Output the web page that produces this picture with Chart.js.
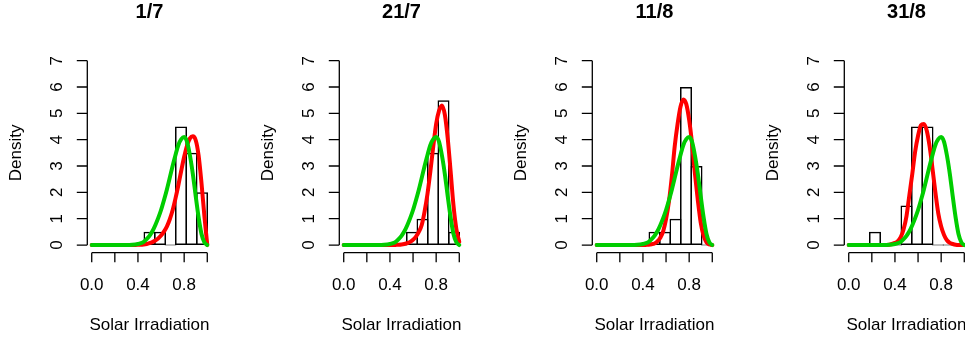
<!DOCTYPE html>
<html>
<head>
<meta charset="utf-8">
<title>Solar Irradiation</title>
<script src="https://cdn.jsdelivr.net/npm/chart.js@4.4.1/dist/chart.umd.min.js"></script>
<style>
  html, body { margin: 0; padding: 0; background: #fff; }
  #wrap { position: relative; width: 965px; height: 340px; overflow: hidden; }
  #wrap canvas { position: absolute; top: 0; }
</style>
</head>
<body>
<div id="wrap"></div>
<script>
// histogram breaks (11 equal bins on [0, 1])
const breaks = [0, 0.0909, 0.1818, 0.2727, 0.3636, 0.4545, 0.5455, 0.6364, 0.7273, 0.8182, 0.9091, 1];

// density of each bin, one array per day
const hist_1_7  = [0, 0, 0,   0, 0, 0.5, 0.5, 0,   4.5, 3.5, 2];
const hist_21_7 = [0, 0, 0,   0, 0, 0,   0.5, 1,   3.5, 5.5, 0.5];
const hist_11_8 = [0, 0, 0,   0, 0, 0.5, 0.5, 1,   6,   3,   0];
const hist_31_8 = [0, 0, 0.5, 0, 0, 1.5, 4.5, 4.5, 0,   0,   0];

// x positions where the fitted densities are listed
const curveX = [0, 0.1, 0.2, 0.3, 0.35, 0.4, 0.425, 0.45, 0.475, 0.5, 0.525, 0.55, 0.575, 0.6, 0.625,
                0.65, 0.675, 0.7, 0.725, 0.75, 0.775, 0.8, 0.825, 0.85, 0.875, 0.9, 0.925, 0.95, 0.975, 1];

// green density, same in every panel
const greenDens = [0, 0, 0, 0, 0.01, 0.04, 0.07, 0.12, 0.22, 0.35, 0.52, 0.75, 1.02, 1.33, 1.7,
                   2.1, 2.55, 3.0, 3.42, 3.8, 4.02, 4.1, 3.92, 3.4, 2.7, 1.85, 1.05, 0.42, 0.1, 0];

// red density fitted for each day
const red_1_7  = [0, 0, 0, 0, 0, 0.01, 0.01, 0.02, 0.04, 0.07, 0.11, 0.17, 0.25, 0.36, 0.51,
                  0.7, 0.97, 1.32, 1.77, 2.28, 2.83, 3.35, 3.78, 4.05, 4.13, 3.98, 3.4, 2.35, 1.1, 0];
const red_21_7 = [0, 0, 0, 0, 0, 0, 0, 0.005, 0.01, 0.02, 0.04, 0.07, 0.12, 0.2, 0.32,
                  0.5, 0.76, 1.28, 1.95, 2.8, 3.75, 4.6, 5.1, 5.3, 4.95, 4.05, 2.8, 1.5, 0.6, 0.12];
const red_11_8 = [0, 0, 0, 0, 0, 0, 0.005, 0.01, 0.03, 0.06, 0.14, 0.28, 0.52, 0.98, 1.65,
                  2.6, 3.75, 4.6, 5.25, 5.53, 5.35, 4.75, 3.85, 2.7, 1.7, 0.85, 0.35, 0.1, 0.02, 0];
const red_31_8 = [0, 0, 0, 0, 0.01, 0.08, 0.15, 0.3, 0.6, 1.1, 1.9, 2.7, 3.55, 4.15, 4.55,
                  4.6, 4.35, 3.75, 2.9, 2.0, 1.2, 0.7, 0.38, 0.18, 0.08, 0.04, 0.01, 0, 0, 0];

const days = ['1/7', '21/7', '11/8', '31/8'];
const hists = [hist_1_7, hist_21_7, hist_11_8, hist_31_8];
const reds = [red_1_7, red_21_7, red_11_8, red_31_8];

// axis ticks
const xTicks = [0, 0.2, 0.4, 0.6, 0.8, 1];
const xTickLabels = ['0.0', '', '0.4', '', '0.8', ''];
const yTicks = [0, 1, 2, 3, 4, 5, 6, 7];

const xTitle = 'Solar Irradiation';
const yTitle = 'Density';

const FONT = '"Liberation Sans", Arial, Helvetica, sans-serif';

// base-graphics style axes: no box, ticks pointing outwards, rotated y labels
const rAxes = {
  id: 'rAxes',
  afterDraw(chart, args, opts) {
    const { ctx, chartArea: a, scales: { x, y } } = chart;
    ctx.save();
    ctx.strokeStyle = '#000';
    ctx.fillStyle = '#000';
    ctx.lineWidth = 1.3;

    const yb = a.bottom + 0.3;
    const xl = a.left + 0.2;
    ctx.beginPath();
    ctx.moveTo(x.getPixelForValue(xTicks[0]), yb);
    ctx.lineTo(x.getPixelForValue(xTicks[xTicks.length - 1]), yb);
    xTicks.forEach(v => {
      const px = x.getPixelForValue(v);
      ctx.moveTo(px, yb);
      ctx.lineTo(px, yb + 9.5);
    });
    ctx.moveTo(xl, y.getPixelForValue(yTicks[0]));
    ctx.lineTo(xl, y.getPixelForValue(yTicks[yTicks.length - 1]));
    yTicks.forEach(v => {
      const py = y.getPixelForValue(v);
      ctx.moveTo(xl, py);
      ctx.lineTo(xl - 10.5, py);
    });
    ctx.stroke();

    ctx.font = '17px ' + FONT;
    ctx.textAlign = 'center';
    ctx.textBaseline = 'alphabetic';
    xTicks.forEach((v, i) => {
      if (xTickLabels[i]) ctx.fillText(xTickLabels[i], x.getPixelForValue(v), a.bottom + 37.6);
    });
    yTicks.forEach(v => {
      ctx.save();
      ctx.translate(a.left - 25.4, y.getPixelForValue(v));
      ctx.rotate(-Math.PI / 2);
      ctx.fillText(String(v), 0, 0);
      ctx.restore();
    });

    const cx = (a.left + a.right) / 2;
    ctx.fillText(xTitle, cx, 330);
    ctx.save();
    ctx.translate(20.7, (a.top + a.bottom) / 2);
    ctx.rotate(-Math.PI / 2);
    ctx.fillText(yTitle, 0, 0);
    ctx.restore();

    ctx.font = 'bold 20px ' + FONT;
    ctx.fillText(opts.title, cx, 18.3);
    ctx.restore();
  }
};

const wrap = document.getElementById('wrap');

days.forEach((day, k) => {
  const canvas = document.createElement('canvas');
  canvas.width = 253;
  canvas.height = 340;
  canvas.style.left = Math.round(k * 252.4) + 'px';
  wrap.appendChild(canvas);

  const bars = hists[k].map((d, i) => ({ x: (breaks[i] + breaks[i + 1]) / 2, y: d }));
  const red = curveX.map((v, i) => ({ x: v, y: reds[k][i] }));
  const green = curveX.map((v, i) => ({ x: v, y: greenDens[i] }));

  new Chart(canvas, {
    type: 'bar',
    data: {
      datasets: [
        {
          type: 'line', data: green, order: 0,
          borderColor: '#00CD00', borderWidth: 4, pointRadius: 0,
          cubicInterpolationMode: 'monotone', borderCapStyle: 'round', borderJoinStyle: 'round'
        },
        {
          type: 'line', data: red, order: 1,
          borderColor: '#FF0000', borderWidth: 4, pointRadius: 0,
          cubicInterpolationMode: 'monotone', borderCapStyle: 'round', borderJoinStyle: 'round'
        },
        {
          // bars are widened by one border width so neighbours share a single edge line
          type: 'bar', data: bars, order: 2,
          backgroundColor: 'rgba(255,255,255,0)', borderColor: '#000', borderWidth: 1.5,
          borderSkipped: false, inflateAmount: 0, minBarLength: 1,
          categoryPercentage: 1, barPercentage: 1.143
        }
      ]
    },
    options: {
      responsive: false,
      animation: false,
      events: [],
      layout: { padding: { left: 87.1, right: 253 - 211.9, top: 53.3, bottom: 340 - 252.4 } },
      scales: {
        x: { type: 'linear', display: false, min: -0.04, max: 1.04, offset: false,
             ticks: { stepSize: 0.2, includeBounds: false } },
        y: { type: 'linear', display: false, min: -0.28, max: 7.28,
             ticks: { stepSize: 1, includeBounds: false } }
      },
      plugins: {
        legend: { display: false },
        tooltip: { enabled: false },
        rAxes: { title: day }
      }
    },
    plugins: [rAxes]
  });
});
</script>
</body>
</html>
